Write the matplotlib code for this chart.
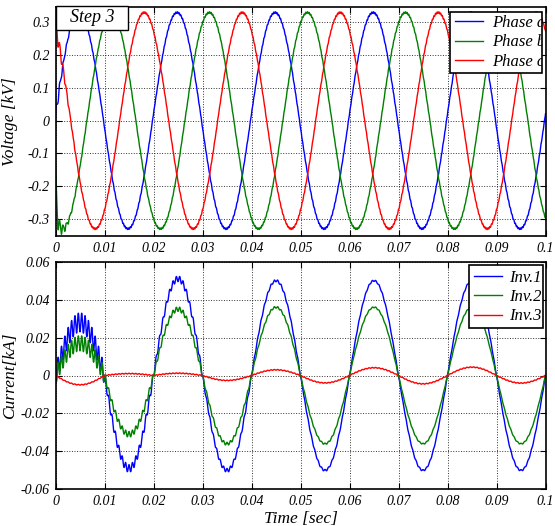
import numpy as np
import matplotlib
matplotlib.use("Agg")
import matplotlib.pyplot as plt
from matplotlib.patches import Rectangle
from matplotlib.transforms import Bbox, TransformedBbox

# ---- values ----
freq_hz = 50.0
t_end = 0.1

phase_labels = ["Phase a", "Phase b", "Phase c"]
phase_colors = ["#0000ff", "#008000", "#ff0000"]
phase_peak_kv = [0.33, 0.33, 0.33]
phase_first_peak_s = [0.0048, 0.0114, 0.0181]
phase_start_kv = [0.01, -0.13, 0.29]      # value at t = 0
phase_settle_s = [0.0006, 0.0002, 0.0008]
phase_ripple_kv = [0.02, 0.035, 0.03]     # switching ripple right after the step

inv_labels = ["Inv.1", "Inv.2", "Inv.3"]
inv_colors = ["#0000ff", "#008000", "#ff0000"]
# signed current at the middle of every half cycle (0.005, 0.015, ... s)
inv1_half_peaks = [0.028, -0.049, 0.051, -0.050, 0.050, -0.050, 0.050, -0.050, 0.050, -0.050]
inv2_half_peaks = [0.017, -0.031, 0.035, -0.036, 0.036, -0.036, 0.036, -0.036, 0.036, -0.036]
inv3_half_peaks = [-0.0049, 0.0010, 0.0012, -0.0026, 0.0030, -0.0039, 0.0041, -0.0044, 0.0044, -0.0040]
inv1_ripple = [0.005, 0.002, 0.0015, 0.001, 0.0006, 0.0005, 0.0004, 0.0004, 0.0004, 0.0004]
inv2_ripple = [0.004, 0.0015, 0.0012, 0.0008, 0.0005, 0.0004, 0.0003, 0.0003, 0.0003, 0.0003]
inv3_ripple = [0.0002] * 10

time_ticks = [0, 0.01, 0.02, 0.03, 0.04, 0.05, 0.06, 0.07, 0.08, 0.09, 0.1]
time_ticklabels = ["0", "0.01", "0.02", "0.03", "0.04", "0.05", "0.06", "0.07", "0.08", "0.09", "0.1"]
volt_ticks = [-0.3, -0.2, -0.1, 0, 0.1, 0.2, 0.3]
volt_ticklabels = ["-0.3", "-0.2", "-0.1", "0", "0.1", "0.2", "0.3"]
cur_ticks = [-0.06, -0.04, -0.02, 0, 0.02, 0.04, 0.06]
cur_ticklabels = ["-0.06", "-0.04", "-0.02", "0", "0.02", "0.04", "0.06"]

ripple_hz = 1450.0

plt.rcParams["font.family"] = ["Liberation Serif", "DejaVu Serif"]
plt.rcParams["font.style"] = "italic"

W, H = 555, 526
fig = plt.figure(figsize=(W / 100, H / 100), dpi=100)

# axes boxes in pixels (left, top, right, bottom)
top_box = (55.5, 7.3, 545.5, 236.0)
bot_box = (55.5, 261.7, 545.5, 489.3)


def add_axes(box):
    l, t, r, b = box
    return fig.add_axes([l / W, 1 - b / H, (r - l) / W, (b - t) / H])


def px(ax, box, x, y):
    # pixel position -> axes fraction
    l, t, r, b = box
    return (x - l) / (r - l), (b - y) / (b - t)


ax1 = add_axes(top_box)
ax2 = add_axes(bot_box)

t = np.linspace(0, t_end, 6001)
w = 2 * np.pi * freq_hz
carrier = np.sin(2 * np.pi * ripple_hz * t)

# voltages
for i in range(3):
    ss = phase_peak_kv[i] * np.cos(w * (t - phase_first_peak_s[i]))
    start_gap = phase_start_kv[i] - ss[0]
    v = ss + start_gap * np.exp(-t / phase_settle_s[i])
    v = v + phase_ripple_kv[i] * np.exp(-t / 0.0015) * carrier
    v = v + 0.0025 * np.sin(2 * np.pi * 2 * ripple_hz * t + i)
    ax1.plot(t, v, color=phase_colors[i], lw=1.0, label=phase_labels[i])

# currents built half cycle by half cycle from the read peaks
half = np.minimum((t / 0.01).astype(int), 9)
sign = np.where(half % 2 == 0, 1.0, -1.0)
for peaks, rip, col, lab in zip([inv1_half_peaks, inv2_half_peaks, inv3_half_peaks],
                                [inv1_ripple, inv2_ripple, inv3_ripple],
                                inv_colors, inv_labels):
    a = np.array(peaks)[half] * sign
    r = np.array(rip)[half]
    cur = a * np.sin(w * t) - r * carrier
    ax2.plot(t, cur, color=col, lw=1.0, label=lab)

for ax, ticks, labels, ylim in [(ax1, volt_ticks, volt_ticklabels, (-0.352, 0.346)),
                                (ax2, cur_ticks, cur_ticklabels, (-0.06, 0.06))]:
    ax.set_xlim(0, t_end)
    ax.set_ylim(*ylim)
    ax.set_xticks(time_ticks)
    ax.set_xticklabels(time_ticklabels, fontstyle="italic")
    ax.set_yticks(ticks)
    ax.set_yticklabels(labels, fontstyle="italic")
    ax.grid(True, color="black", linestyle=":", linewidth=0.7, alpha=0.8)
    ax.tick_params(direction="in", top=True, right=True, length=4, width=0.8,
                   labelsize=10, pad=4)
    for s in ax.spines.values():
        s.set_linewidth(1.2)

ax1.set_ylabel("Voltage [kV]", fontsize=12.5, fontstyle="italic")
ax1.yaxis.set_label_coords(-0.077, 0.5)
ax2.set_ylabel("Current[kA]", fontsize=12.5, fontstyle="italic")
ax2.yaxis.set_label_coords(-0.077, 0.5)
ax2.set_xlabel("Time [sec]", fontsize=12.5, fontstyle="italic", labelpad=2)

# "Step 3" tag
x0, y1 = px(ax1, top_box, 56, 6)
x1, y0 = px(ax1, top_box, 128, 30)
ax1.add_patch(Rectangle((x0, y0), x1 - x0, y1 - y0, transform=ax1.transAxes,
                        facecolor="white", edgecolor="black", lw=1.0,
                        clip_on=False, zorder=6))
ax1.text((x0 + x1) / 2, (y0 + y1) / 2, "Step 3", transform=ax1.transAxes,
         ha="center", va="center", fontsize=13, fontstyle="italic", zorder=7)


def boxed_legend(ax, box, frame_px, anchor_px, textpad):
    fx0, fy1 = px(ax, box, frame_px[0], frame_px[1])
    fx1, fy0 = px(ax, box, frame_px[2], frame_px[3])
    frame = Rectangle((fx0, fy0), fx1 - fx0, fy1 - fy0, transform=ax.transAxes,
                      facecolor="white", edgecolor="black", lw=1.2, zorder=4.5)
    ax.add_patch(frame)
    leg = ax.legend(loc="center left", bbox_to_anchor=px(ax, box, *anchor_px),
                    frameon=False, prop={"size": 12, "style": "italic"},
                    borderpad=0, borderaxespad=0, handlelength=1.7,
                    handletextpad=textpad, labelspacing=0.2)
    leg.set_zorder(5)
    clip = TransformedBbox(Bbox([[fx0, fy0], [fx1, fy1]]), ax.transAxes)
    for txt in leg.get_texts():
        txt.set_clip_box(clip)
        txt.set_clip_on(True)
    return leg


boxed_legend(ax1, top_box, (450, 11.7, 541.7, 72.7), (455, 42.4), 0.5)
boxed_legend(ax2, bot_box, (469, 265, 543.3, 328.3), (474, 297), 0.4)

fig.savefig("out.png", dpi=100, facecolor="white")
